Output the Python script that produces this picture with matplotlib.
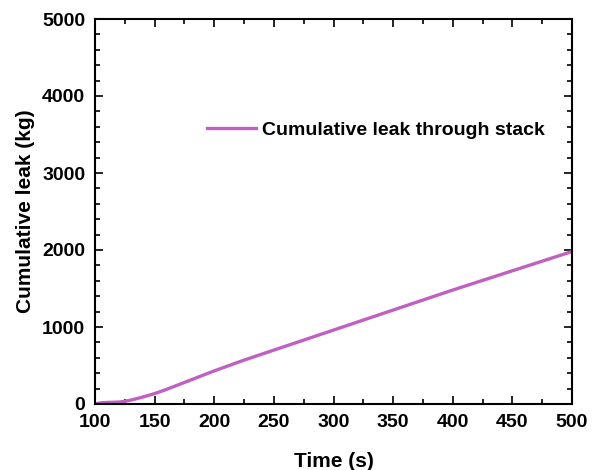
import matplotlib.pyplot as plt
from matplotlib.ticker import MultipleLocator

plt.rcParams['font.family'] = ['Liberation Sans', 'DejaVu Sans']
plt.rcParams['font.weight'] = 'bold'

# values
time_s = [100, 105, 110, 115, 120, 125, 130, 140, 150, 160, 170, 180, 190, 200,
          225, 250, 275, 300, 325, 350, 375, 400, 425, 450, 475, 500]
leak_kg = [0, 15, 20, 22, 25, 35, 50, 90, 135, 190, 250, 310, 370, 430,
           570, 700, 830, 960, 1090, 1220, 1350, 1480, 1605, 1730, 1855, 1980]

fig = plt.figure(figsize=(6.06, 4.70), dpi=100)
ax = fig.add_axes([95/606, 1-404/470, 477/606, 385/470])

ax.plot(time_s, leak_kg, color='#c060c0', lw=2.4, label='Cumulative leak through stack')

ax.set_xlim(100, 500)
ax.set_ylim(0, 5000)
ax.xaxis.set_major_locator(MultipleLocator(50))
ax.xaxis.set_minor_locator(MultipleLocator(25))
ax.yaxis.set_major_locator(MultipleLocator(1000))
ax.yaxis.set_minor_locator(MultipleLocator(200))
ax.tick_params(which='both', direction='in', top=True, right=True, width=1.2, labelsize=14, pad=7)
ax.tick_params(which='major', length=6)
ax.tick_params(which='minor', length=3.5)
for s in ax.spines.values():
    s.set_linewidth(1.5)

ax.set_xlabel('Time (s)', fontsize=15, fontweight='bold', labelpad=15)
ax.set_ylabel('Cumulative leak (kg)', fontsize=15, fontweight='bold', labelpad=5)

ax.legend(loc='center left', bbox_to_anchor=(0.235, 0.712), frameon=False, fontsize=14,
          handlelength=2.5, handletextpad=0.3, borderpad=0, borderaxespad=0)

fig.savefig('out.png', dpi=100)
